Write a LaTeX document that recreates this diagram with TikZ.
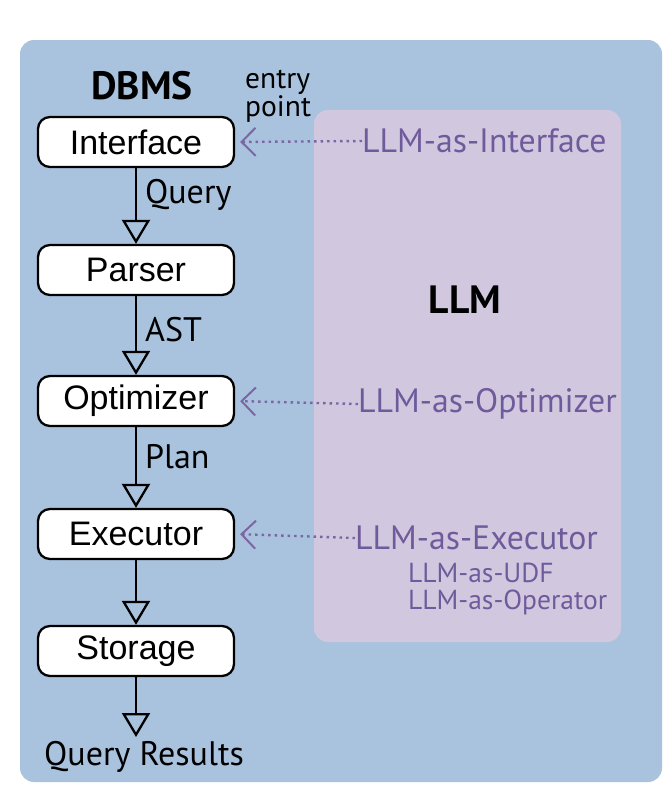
\documentclass[tikz,border=0pt]{standalone}
\usepackage{fontspec}
\setmainfont{Liberation Sans}
\newfontfamily\labfont{PT Sans}
\usetikzlibrary{arrows.meta}
\definecolor{dbmsblue}{HTML}{A9C3DE}
\definecolor{llmpink}{HTML}{D1C8DF}
\definecolor{llmtext}{HTML}{6F5B9C}
\definecolor{llmarrow}{HTML}{7B66A3}
\tikzset{
  comp/.style={draw=black, line width=2.3pt, fill=white, rounded corners=12pt,
    minimum width=196pt, minimum height=50pt, inner sep=0pt,
    font=\fontsize{34}{36}\selectfont},
  flow/.style={line width=2.3pt, -{Triangle[open, length=24pt, width=28pt, line width=2.3pt]}},
  lab/.style={font=\labfont\fontsize{34}{36}\selectfont, anchor=west, inner sep=0pt},
  llmlab/.style={font=\labfont\fontsize{33.8}{36}\selectfont, text=llmtext, anchor=west, inner sep=0pt},
  llmsmall/.style={font=\labfont\fontsize{27.5}{28}\selectfont, text=llmtext, anchor=west, inner sep=0pt},
  entry/.style={line width=2.4pt, llmarrow, dash pattern=on 2.5pt off 4pt,
    -{Straight Barb[length=14pt, width=28pt, line width=2pt]}, shorten >=5pt},
}
\begin{document}
\begin{tikzpicture}[x=1pt, y=-1pt]
\useasboundingbox (0,0) rectangle (672,798);
\fill[white] (0,0) rectangle (672,798);
\fill[dbmsblue, rounded corners=14pt] (20,40) rectangle (662,782);
\fill[llmpink, rounded corners=14pt] (314,110) rectangle (621,642);

\node[font=\labfont\bfseries\fontsize{39.5}{40}\selectfont, inner sep=0pt] (dbms) at (142,86) {DBMS};
\node[font=\labfont\fontsize{29.5}{28}\selectfont, align=left, inner sep=0pt, anchor=west] (entry) at (245,96) {entry\\point};
\node[font=\labfont\bfseries\fontsize{39.5}{40}\selectfont, inner sep=0pt] (llm) at (465,300) {LLM};

\node[comp] (iface) at (136,142) {Interface};
\node[comp] (parser) at (136,270) {Parser};
\node[comp] (opt) at (136,401) {Optimizer};
\node[comp] (exec) at (136,534) {Executor};
\node[comp] (stor) at (136,651) {Storage};
\coordinate (res) at (136,737);
\node[font=\labfont\fontsize{34}{36}\selectfont, inner sep=0pt] (results) at (144,757) {Query Results};

\draw[flow] (iface) -- (parser) node[lab, pos=0.35, xshift=8pt] (q) {Query};
\draw[flow] (parser) -- (opt) node[lab, pos=0.43, xshift=8pt] (ast) {AST};
\draw[flow] (opt) -- (exec) node[lab, pos=0.37, xshift=8pt] (plan) {Plan};
\draw[flow] (exec) -- (stor);
\draw[flow] (stor) -- (res);

\node[llmlab] (li) at (362,141) {LLM-as-Interface};
\node[llmlab] (lo) at (358,404) {LLM-as-Optimizer};
\node[llmlab] (le) at (355,538) {LLM-as-Executor};
\node[llmsmall] (lu) at (408,573) {LLM-as-UDF};
\node[llmsmall] (lop) at (408,602) {LLM-as-Operator};

\draw[entry] (li.west) -- (iface.east);
\draw[entry] (lo.west) -- (opt.east);
\draw[entry] (le.west) -- (exec.east);
\end{tikzpicture}
\end{document}
